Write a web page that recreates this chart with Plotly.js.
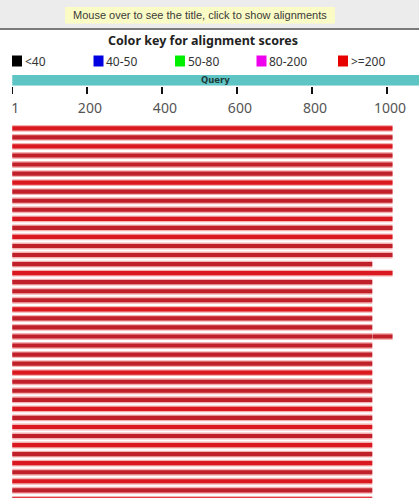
<!DOCTYPE html>
<html>
<head>
<meta charset="utf-8">
<script src="https://cdn.plot.ly/plotly-3.0.1.min.js"></script>
<style>html,body{margin:0;padding:0;background:#fff}#chart{width:419px;height:498px}</style>
</head>
<body>
<div id="chart"></div>
<script>
// ---- data ----
const rowIndex = [0,1,2,3,4,5,6,7,8,9,10,11,12,13,14,15,16,17,18,19,20,21,22,23,23,24,25,26,27,28,29,30,31,32,33,34,35,36,37,38,39,40,41];
const hitStart = [1,1,1,1,1,1,1,1,1,1,1,1,1,1,1,1,1,1,1,1,1,1,1,1,962,1,1,1,1,1,1,1,1,1,1,1,1,1,1,1,1,1,1];
const hitEnd   = [1015,1015,1015,1015,1015,1015,1015,1015,1015,1015,1015,1015,1015,1015,1015,961,1015,961,961,961,961,961,961,961,1015,961,961,961,961,961,961,961,961,961,961,961,961,961,961,961,961,961,961];
const queryLabel = 'Query';
const queryStart = 1;
const queryEnd = 1086;
const tickValues = [1, 200, 400, 600, 800, 1000];
const tickLabels = ['1', '200', '400', '600', '800', '1000'];
const keyLabels = ['<40', '40-50', '50-80', '80-200', '>=200'];
const keyColors = ['#000000', '#0000e0', '#00ee00', '#ee00ee', '#e80000'];
const headerText = 'Mouse over to see the title, click to show alignments';
const keyTitle = 'Color key for alignment scores';

// ---- styles ----
const brightRows = new Set([0,2,6,10,12,16,20,27,31,33,35,37,39,41]);
const coreColors = rowIndex.map(r => brightRows.has(r) ? '#da1820' : '#c0202a');
const H = 498, W = 419;
const py = px => 1 - px / H;
const pxx = px => px / W;

const lengths = hitEnd.map((e, i) => e - hitStart[i]);

const halo = {
  type: 'bar', orientation: 'h', y: rowIndex, x: lengths, base: hitStart,
  width: 0.76, marker: {color: '#f5b0b0', line: {width: 0}},
  hoverinfo: 'skip', showlegend: false, xaxis: 'x', yaxis: 'y'
};
const core = {
  type: 'bar', orientation: 'h', y: rowIndex, x: lengths, base: hitStart,
  width: 0.46, marker: {color: coreColors, line: {width: 0}},
  showlegend: false, xaxis: 'x', yaxis: 'y'
};
const query = {
  type: 'bar', orientation: 'h', y: [0], x: [queryEnd - queryStart], base: [queryStart],
  width: 1, marker: {color: '#5fc4c4', line: {width: 0}},
  showlegend: false, xaxis: 'x', yaxis: 'y2'
};

const shapes = [
  {type: 'rect', xref: 'paper', yref: 'paper', x0: 0, x1: 1, y0: py(28.5), y1: 1, fillcolor: '#ececec', line: {width: 0}, layer: 'below'},
  {type: 'line', xref: 'paper', yref: 'paper', x0: 0, x1: 1, y0: py(29), y1: py(29), line: {color: '#7a7a7a', width: 2}},
  {type: 'rect', xref: 'paper', yref: 'paper', x0: pxx(65), x1: pxx(335), y0: py(23.5), y1: py(7), fillcolor: '#fbfbc6', line: {width: 0}}
];
const annotations = [
  {xref: 'paper', yref: 'paper', x: pxx(200), y: py(15.5), text: headerText, showarrow: false,
   xanchor: 'center', yanchor: 'middle', font: {family: 'Liberation Sans Narrow, Liberation Sans, sans-serif', size: 11, color: '#3a3a3a'}},
  {xref: 'paper', yref: 'paper', x: pxx(203), y: py(40), text: '<b>' + keyTitle + '</b>', showarrow: false,
   xanchor: 'center', yanchor: 'middle', font: {family: 'Noto Sans, sans-serif', size: 12.5, color: '#222'}},
  {xref: 'x', yref: 'y2', x: (queryStart + queryEnd) / 2, y: 0, text: '<b>' + queryLabel + '</b>', showarrow: false,
   xanchor: 'center', yanchor: 'middle', font: {family: 'DejaVu Sans, sans-serif', size: 8.5, color: '#1d3b3b'}}
];
keyLabels.forEach((lab, i) => {
  const x0 = 12 + i * 81.5;
  shapes.push({type: 'rect', xref: 'paper', yref: 'paper', x0: pxx(x0), x1: pxx(x0 + 10), y0: py(66.5), y1: py(55.5),
    fillcolor: keyColors[i], line: {width: 0}});
  annotations.push({xref: 'paper', yref: 'paper', x: pxx(x0 + 10.5), y: py(61.5), text: lab, showarrow: false,
    xanchor: 'left', yanchor: 'middle', font: {family: 'Noto Sans, sans-serif', size: 12, color: '#333'}});
});

const layout = {
  width: W, height: H, margin: {l: 0, r: 0, t: 0, b: 0},
  paper_bgcolor: '#ffffff', plot_bgcolor: 'rgba(0,0,0,0)',
  barmode: 'overlay', showlegend: false,
  xaxis: {range: [-31.7, 1085.6], anchor: 'y2', side: 'bottom', showgrid: false, zeroline: false, showline: false,
    ticks: 'outside', ticklen: 7, tickwidth: 1.5, tickcolor: '#111', tickvals: tickValues, ticktext: tickLabels,
    ticklabelshift: 3, ticklabelstandoff: 2,
    tickfont: {family: 'Noto Sans, sans-serif', size: 14, color: '#555'}, fixedrange: true},
  yaxis: {domain: [0, py(123.8)], range: [40.85, -0.5], visible: false, fixedrange: true},
  yaxis2: {domain: [py(85.7), py(75)], range: [-0.5, 0.5], visible: false, fixedrange: true},
  shapes: shapes, annotations: annotations
};

Plotly.newPlot('chart', [halo, core, query], layout, {displayModeBar: false, staticPlot: true});
</script>
</body>
</html>
